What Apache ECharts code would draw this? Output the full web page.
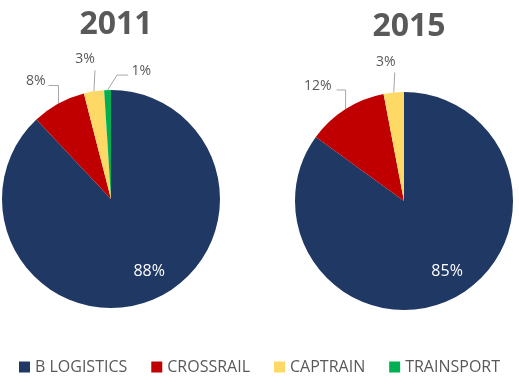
<!DOCTYPE html>
<html>
<head>
<meta charset="utf-8">
<script src="https://cdn.jsdelivr.net/npm/echarts@6/dist/echarts.min.js"></script>
<style>
  html, body { margin: 0; padding: 0; background: #fff; }
  #chart { width: 519px; height: 390px; }
</style>
</head>
<body>
<div id="chart"></div>
<script>
// categories and values (percent)
var names = ['B LOGISTICS', 'CROSSRAIL', 'CAPTRAIN', 'TRAINSPORT'];
var colors = ['#1F3864', '#C00000', '#FFD966', '#00B050'];
var years = ['2011', '2015'];
var values2011 = [88, 8, 3, 1];
var values2015 = [85, 12, 3, 0];

var textColor = '#595959';
var font = 'Open Sans';

// excel style leader lines, offsets from the slice edge point
// [elbow, end of line, label pos, align]
var leaders = [
    [null, [[0, -18], [-10, -18], [-13, -22], 'right'],
           [[1, -21], [1, -21], [-9, -32], 'center'],
           [[9.5, -15], [20.5, -15], [24, -19], 'left']],
    [null, [[0, -19], [-9, -19], [-14, -23], 'right'],
           [[1, -20], [1, -20], [-8, -30], 'center'],
           null]
];

function buildData(values) {
    return values.map(function(v, i) {
        var item = { name: names[i], value: v, itemStyle: { color: colors[i] } };
        if (i == 0) { // biggest slice: label inside, white
            item.label = { position: 'inside', color: '#fff', fontSize: 16, offset: [17, 19] };
        }
        if (v == 0) {
            item.label = { show: false };
            item.labelLine = { show: false };
        }
        return item;
    });
}

function pieSeries(values, cx, cy, idx) {
    return {
        type: 'pie',
        center: [cx, cy],
        radius: 109,
        startAngle: 90,
        clockwise: true,
        avoidLabelOverlap: false,
        animation: false,
        label: {
            show: true,
            formatter: '{c}%',
            fontFamily: font,
            fontSize: 14,
            color: textColor
        },
        labelLine: {
            show: true,
            length: 10,
            length2: 10,
            lineStyle: { color: '#a6a6a6', width: 1 }
        },
        labelLayout: function(params) {
            var cfg = leaders[idx][params.dataIndex];
            var pts = params.labelLinePoints;
            if (!cfg || !pts) return {};
            var a = pts[0];
            return {
                x: a[0] + cfg[2][0],
                y: a[1] + cfg[2][1],
                align: cfg[3],
                verticalAlign: 'middle',
                labelLinePoints: [
                    [a[0], a[1]],
                    [a[0] + cfg[0][0], a[1] + cfg[0][1]],
                    [a[0] + cfg[1][0], a[1] + cfg[1][1]]
                ]
            };
        },
        emphasis: { disabled: true },
        data: buildData(values)
    };
}

var myChart = echarts.init(document.getElementById('chart'));
var option = {
    backgroundColor: '#fff',
    title: [{
        text: years[0], left: 111, top: 4, textAlign: 'center',
        textStyle: { fontFamily: font, fontWeight: 'bold', fontSize: 32, color: textColor }
    }, {
        text: years[1], left: 404, top: 6, textAlign: 'center',
        textStyle: { fontFamily: font, fontWeight: 'bold', fontSize: 32, color: textColor }
    }],
    legend: {
        data: names,
        top: 354,
        left: 'center',
        icon: 'rect',
        itemWidth: 11,
        itemHeight: 11,
        itemGap: 24,
        selectedMode: false,
        textStyle: { fontFamily: font, fontSize: 16, color: textColor }
    },
    series: [pieSeries(values2011, 111, 199, 0), pieSeries(values2015, 404, 201, 1)]
};
myChart.setOption(option);
</script>
</body>
</html>
